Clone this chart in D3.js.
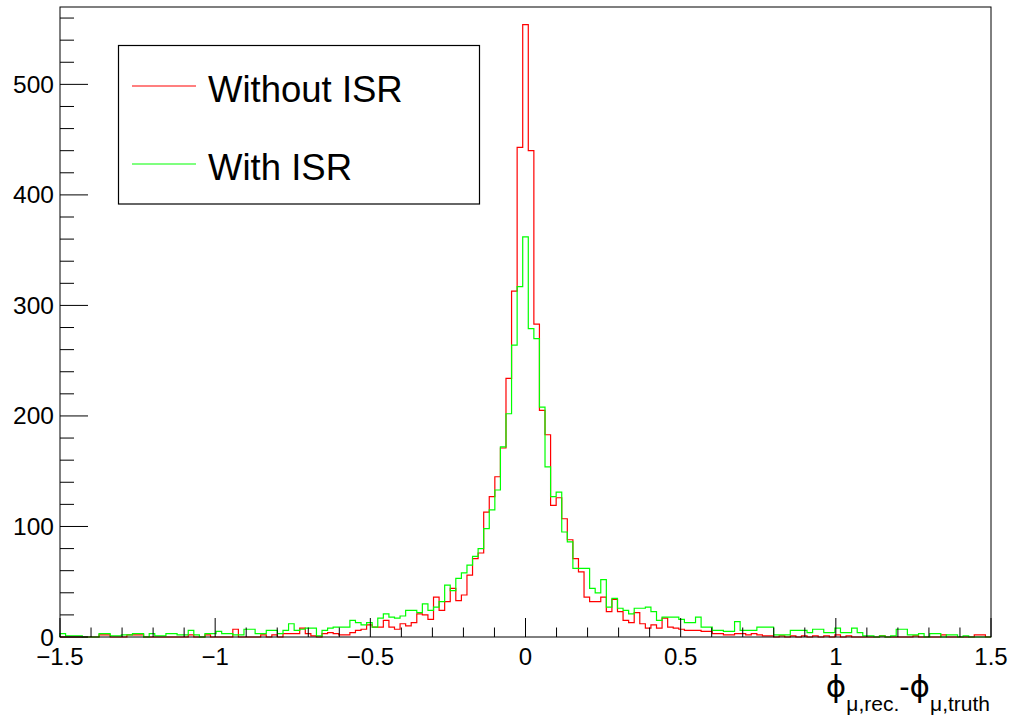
<!DOCTYPE html>
<html>
<head>
<meta charset="utf-8">
<script src="https://cdn.jsdelivr.net/npm/d3@7/dist/d3.min.js"></script>
<style>
  body { margin: 0; background: #fff; }
  svg { display: block; }
  text { font-family: "Liberation Sans", Arial, Helvetica, sans-serif; fill: #000; }
</style>
</head>
<body>
<svg id="chart" width="1010" height="719"></svg>
<script>
const width = 1010, height = 719;
const frame = { left: 60, right: 991, top: 7, bottom: 637 };

// histogram: 167 bins over [-1.5, 1.5]
const xMin = -1.5, xMax = 1.5, nBins = 167;

// counts per bin
const withoutISR = [
  0, 0, 0, 0, 0, 0, 0, 2, 2, 0,
  0, 0, 2, 2, 2, 0, 0, 0, 0, 0,
  0, 0, 0, 2, 0, 0, 2, 0, 0, 0,
  0, 7, 0, 0, 0, 0, 2, 0, 2, 0,
  3, 3, 3, 8, 3, 1, 0, 3, 4, 3,
  2, 2, 4, 6, 7, 11, 9, 9, 15, 9,
  7, 12, 10, 13, 21, 20, 16, 36, 24, 32,
  44, 33, 38, 56, 71, 76, 113, 127, 145, 171,
  234, 313, 443, 554, 440, 283, 205, 183, 119, 126,
  107, 88, 71, 59, 36, 32, 32, 36, 23, 34,
  23, 15, 13, 22, 12, 8, 11, 8, 17, 9,
  8, 7, 6, 6, 6, 5, 5, 3, 3, 2,
  2, 3, 3, 2, 3, 2, 1, 1, 0, 1,
  0, 1, 0, 1, 0, 1, 0, 1, 0, 2,
  0, 1, 0, 0, 0, 0, 0, 1, 0, 0,
  0, 0, 0, 1, 0, 0, 0, 0, 2, 0,
  0, 0, 0, 0, 2, 2, 0
];

const withISR = [
  3, 1, 1, 1, 0, 0, 0, 3, 3, 1,
  1, 2, 2, 3, 3, 0, 3, 1, 1, 3,
  3, 2, 2, 6, 2, 0, 3, 3, 5, 3,
  3, 2, 2, 7, 7, 3, 3, 6, 6, 3,
  6, 12, 6, 7, 8, 8, 1, 6, 8, 9,
  9, 9, 15, 13, 11, 13, 9, 17, 21, 18,
  17, 19, 24, 24, 22, 30, 24, 27, 32, 47,
  42, 53, 58, 65, 73, 80, 98, 115, 133, 172,
  202, 264, 317, 362, 279, 270, 208, 154, 127, 131,
  95, 86, 62, 62, 62, 44, 40, 52, 27, 35,
  26, 24, 21, 26, 26, 27, 23, 15, 18, 18,
  18, 16, 13, 13, 18, 9, 9, 6, 6, 5,
  5, 14, 6, 6, 6, 9, 9, 9, 2, 2,
  2, 6, 6, 6, 4, 7, 7, 4, 4, 8,
  4, 4, 8, 4, 1, 1, 0, 1, 0, 1,
  7, 7, 2, 2, 3, 0, 3, 3, 0, 2,
  2, 0, 1, 0, 0, 0, 0
];

const xTicks = [-1.5, -1, -0.5, 0, 0.5, 1, 1.5];
const yTicks = [0, 100, 200, 300, 400, 500];
const legendLabels = ["Without ISR", "With ISR"];
const seriesColors = ["#ff0000", "#00ff00"];

const svg = d3.select("#chart");

const x = d3.scaleLinear().domain([xMin, xMax]).range([frame.left, frame.right]);
const y = d3.scaleLinear().domain([0, 570]).range([frame.bottom, frame.top]);
const binW = (xMax - xMin) / nBins;

function stepPoints(counts) {
  const pts = [[xMin, 0]];
  counts.forEach((c, i) => pts.push([xMin + i * binW, c]));
  pts.push([xMax, counts[counts.length - 1]]);
  pts.push([xMax, 0]);
  return pts;
}

const line = d3.line()
  .x(d => x(d[0]))
  .y(d => y(d[1]))
  .curve(d3.curveStepAfter);

[withoutISR, withISR].forEach((counts, k) => {
  svg.append("path")
    .datum(stepPoints(counts))
    .attr("d", line)
    .attr("fill", "none")
    .attr("stroke", seriesColors[k])
    .attr("stroke-width", 1.2);
});

// frame
svg.append("rect")
  .attr("x", frame.left).attr("y", frame.top)
  .attr("width", frame.right - frame.left)
  .attr("height", frame.bottom - frame.top)
  .attr("fill", "none")
  .attr("stroke", "#000")
  .attr("stroke-width", 1);

// x axis ticks
const xMinor = d3.range(-15, 16).map(d => d / 10);
svg.append("g").selectAll("line")
  .data(xMinor)
  .join("line")
  .attr("x1", d => x(d)).attr("x2", d => x(d))
  .attr("y1", frame.bottom)
  .attr("y2", d => frame.bottom - (Math.abs(d * 2 - Math.round(d * 2)) < 1e-6 ? 19 : 9.5))
  .attr("stroke", "#000");

svg.append("g").selectAll("text")
  .data(xTicks)
  .join("text")
  .attr("x", d => x(d))
  .attr("y", 665)
  .attr("text-anchor", "middle")
  .style("font-size", "24px")
  .text(d => d3.format("")(d).replace("-", "\u2212"));

// y axis ticks
const yMinor = d3.range(0, 561, 20);
svg.append("g").selectAll("line")
  .data(yMinor)
  .join("line")
  .attr("x1", frame.left)
  .attr("x2", d => frame.left + (d % 100 === 0 ? 28 : 14))
  .attr("y1", d => y(d)).attr("y2", d => y(d))
  .attr("stroke", "#000");

svg.append("g").selectAll("text")
  .data(yTicks)
  .join("text")
  .attr("x", 54)
  .attr("y", d => y(d) + 8.5)
  .attr("text-anchor", "end")
  .style("font-size", "24.5px")
  .text(d => d);

// axis title
const title = svg.append("text")
  .attr("x", 990)
  .attr("y", 697)
  .attr("text-anchor", "end")
  .style("font-size", "31px");
title.append("tspan").style("font-family", "DejaVu Sans").text("\u03d5");
title.append("tspan").attr("dy", 14).style("font-size", "21px").text("\u03bc,rec.");
title.append("tspan").attr("dy", -14).text("-");
title.append("tspan").style("font-family", "DejaVu Sans").text("\u03d5");
title.append("tspan").attr("dy", 14).style("font-size", "21px").text("\u03bc,truth");

// legend
const legend = svg.append("g");
legend.append("rect")
  .attr("x", 118.5).attr("y", 45.5)
  .attr("width", 361).attr("height", 158.5)
  .attr("fill", "#fff")
  .attr("stroke", "#000")
  .attr("stroke-width", 1.2);

legendLabels.forEach((lab, k) => {
  const ly = k === 0 ? 86 : 164;
  legend.append("line")
    .attr("x1", 132).attr("x2", 196)
    .attr("y1", ly).attr("y2", ly)
    .attr("stroke", seriesColors[k])
    .attr("stroke-width", 1.2);
  legend.append("text")
    .attr("x", 208)
    .attr("y", ly + 16)
    .style("font-size", "36.5px")
    .text(lab);
});
</script>
</body>
</html>
